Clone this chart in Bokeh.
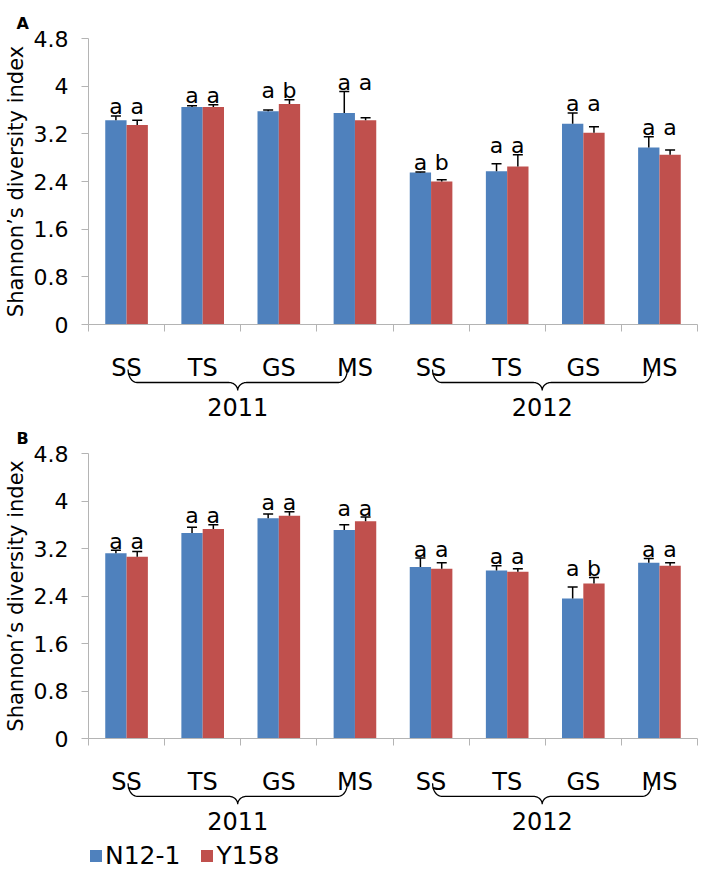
import numpy as np
from bokeh.plotting import figure
from bokeh.models import (Range1d, FixedTicker, NumeralTickFormatter, Whisker, TeeHead,
                          ColumnDataSource)
from bokeh.layouts import column
from bokeh.core.properties import value
from bokeh.embed import file_html
from bokeh.resources import INLINE

# ---------------- data ----------------
seasons = ["SS", "TS", "GS", "MS", "SS", "TS", "GS", "MS"]
years = ["2011", "2012"]
series_names = ["N12-1", "Y158"]
y_ticks = [0, 0.8, 1.6, 2.4, 3.2, 4.0, 4.8]

a_n12 = [3.43, 3.65, 3.58, 3.55, 2.55, 2.57, 3.37, 2.97]
a_n12_err = [0.07, 0.02, 0.02, 0.36, 0.01, 0.13, 0.18, 0.18]
a_y158 = [3.35, 3.65, 3.70, 3.43, 2.40, 2.65, 3.22, 2.85]
a_y158_err = [0.08, 0.04, 0.07, 0.04, 0.03, 0.20, 0.10, 0.08]
a_n12_letters = ["a", "a", "a", "a", "a", "a", "a", "a"]
a_y158_letters = ["a", "a", "b", "a", "b", "a", "a", "a"]

b_n12 = [3.12, 3.46, 3.71, 3.51, 2.89, 2.83, 2.36, 2.96]
b_n12_err = [0.05, 0.10, 0.07, 0.09, 0.15, 0.08, 0.19, 0.07]
b_y158 = [3.06, 3.53, 3.75, 3.66, 2.86, 2.81, 2.61, 2.91]
b_y158_err = [0.09, 0.07, 0.07, 0.07, 0.10, 0.05, 0.10, 0.05]
b_n12_letters = ["a", "a", "a", "a", "a", "a", "a", "a"]
b_y158_letters = ["a", "a", "a", "a", "a", "a", "b", "a"]

# ---------------- style ----------------
FONT = "DejaVu Sans"
BLUE = "#4F81BD"
RED = "#C0504D"
AXIS_GRAY = "#B4B4B4"
W = 704
LEFT = 83
RIGHT = 7
FRAME_H = 286
BAR_W = 0.28
OFF = 0.14
N_CAT = len(seasons)
Y_MAX = y_ticks[-1]
PX_X = (W - LEFT - RIGHT) / N_CAT
PX_Y = FRAME_H / Y_MAX
BRACE_TOP, BRACE_LINE, BRACE_TIP, BRACE_R = 45, 58, 66, 9
YEAR_OFFSET = 82
LETTER_GAP = 9


def brace_path(x0, x1):
    rx = BRACE_R / PX_X
    xm = (x0 + x1) / 2
    a = np.linspace(np.pi, np.pi / 2, 14)
    b = np.linspace(-np.pi / 2, 0, 14)
    c = np.linspace(np.pi, 1.5 * np.pi, 14)
    d = np.linspace(np.pi / 2, 0, 14)
    xs = np.concatenate([x0 + rx + rx * np.cos(a), xm - rx + rx * np.cos(b),
                         xm + rx + rx * np.cos(c), x1 - rx + rx * np.cos(d)])
    ys = np.concatenate([BRACE_TOP + (BRACE_LINE - BRACE_TOP) * np.sin(a),
                         BRACE_TIP + (BRACE_TIP - BRACE_LINE) * np.sin(b),
                         BRACE_TIP + (BRACE_TIP - BRACE_LINE) * np.sin(c),
                         BRACE_TOP + (BRACE_LINE - BRACE_TOP) * np.sin(d)])
    return xs, -ys / PX_Y


def make_panel(label, n, n_err, yv, y_err, n_let, y_let, height, top):
    p = figure(width=W, height=height, x_range=Range1d(0, N_CAT), y_range=Range1d(0, Y_MAX),
               output_backend="svg", toolbar_location=None,
               min_border_left=LEFT, min_border_right=RIGHT, min_border_top=top,
               min_border_bottom=height - top - FRAME_H, title=label)
    p.outline_line_color = None
    p.grid.visible = False
    p.background_fill_color = "white"

    p.title.text_font = FONT
    p.title.text_font_size = "16px"
    p.title.text_font_style = "bold"
    p.title.text_color = "black"
    p.title.align = "left"
    p.title.offset = -72
    p.title.standoff = 12

    centers = [i + 0.5 for i in range(N_CAT)]
    xn = [c - OFF for c in centers]
    xy = [c + OFF for c in centers]

    p.vbar(x=xn, top=n, width=BAR_W, fill_color=BLUE, line_color=None)
    p.vbar(x=xy, top=yv, width=BAR_W, fill_color=RED, line_color=None)

    for xs, tops, errs in ((xn, n, n_err), (xy, yv, y_err)):
        src = ColumnDataSource(dict(base=xs, lower=tops,
                                    upper=[t + e for t, e in zip(tops, errs)]))
        wk = Whisker(source=src, base="base", lower="lower", upper="upper",
                     dimension="height", line_color="black", line_width=1.5,
                     upper_head=TeeHead(size=10, line_width=1.5, line_color="black"),
                     lower_head=None, level="overlay")
        p.add_layout(wk)

    letter_y = [max(a + b, c + d) + LETTER_GAP / PX_Y
                for a, b, c, d in zip(n, n_err, yv, y_err)]
    p.text(x=xn + xy, y=letter_y + letter_y, text=n_let + y_let,
           text_font=value(FONT), text_font_size="22px", text_align="center",
           text_baseline="alphabetic", text_color="black", level="overlay")

    # axes
    xa = p.xaxis[0]
    xa.ticker = FixedTicker(ticks=centers, minor_ticks=list(range(N_CAT + 1)))
    xa.major_label_overrides = {c: s for c, s in zip(centers, seasons)}
    xa.major_tick_out = 0
    xa.major_tick_in = 0
    xa.minor_tick_out = 7
    xa.minor_tick_in = 0
    xa.minor_tick_line_color = AXIS_GRAY
    xa.axis_line_color = AXIS_GRAY
    xa.major_label_text_font = FONT
    xa.major_label_text_font_size = "24px"
    xa.major_label_standoff = 22
    xa.major_label_text_color = "black"

    ya = p.yaxis[0]
    ya.ticker = FixedTicker(ticks=y_ticks)
    ya.formatter = NumeralTickFormatter(format="0.[0]")
    ya.major_tick_out = 7
    ya.major_tick_in = 0
    ya.minor_tick_out = 0
    ya.minor_tick_in = 0
    ya.major_tick_line_color = AXIS_GRAY
    ya.axis_line_color = AXIS_GRAY
    ya.major_label_text_font = FONT
    ya.major_label_text_font_size = "22px"
    ya.major_label_standoff = 13
    ya.major_label_text_color = "black"
    ya.axis_label = "Shannon\u2019s diversity index"
    ya.axis_label_text_font = FONT
    ya.axis_label_text_font_size = "21px"
    ya.axis_label_text_font_style = "normal"
    ya.axis_label_standoff = 3
    ya.axis_label_text_color = "black"

    # year braces and labels below the axis
    yr_x = []
    for g in range(len(years)):
        first = g * 4 + 0.5
        last = g * 4 + 3.5
        x0, x1 = first + 0.02, last - 0.1
        bx, by = brace_path(x0, x1)
        p.line(bx, by, line_color="black", line_width=1.3, level="overlay")
        yr_x.append((x0 + x1) / 2)
    p.text(x=yr_x, y=[0] * len(years), text=years, y_offset=YEAR_OFFSET,
           text_font=value(FONT), text_font_size="24px", text_align="center",
           text_baseline="middle", text_color="black", level="overlay")
    return p


pA = make_panel("A", a_n12, a_n12_err, a_y158, a_y158_err, a_n12_letters, a_y158_letters,
                420, 38)
pB = make_panel("B", b_n12, b_n12_err, b_y158, b_y158_err, b_n12_letters, b_y158_letters,
                421, 32)

# legend strip
LEG_X = 85
pL = figure(width=W, height=872 - 420 - 421, output_backend="svg", toolbar_location=None,
            x_axis_type=None, y_axis_type=None, x_range=Range1d(0, 1), y_range=Range1d(0, 1),
            min_border_left=LEG_X, min_border_right=0, min_border_top=0, min_border_bottom=0)
pL.outline_line_color = None
pL.grid.visible = False
# zero-size placeholder bars that only carry the legend entries
pL.vbar(x=[0], top=[0], width=0, fill_color=BLUE, line_color=None,
        legend_label=series_names[0])
pL.vbar(x=[0], top=[0], width=0, fill_color=RED, line_color=None,
        legend_label=series_names[1])
lg = pL.legend[0]
lg.orientation = "horizontal"
lg.location = "top_left"
lg.padding = 0
lg.margin = 0
lg.spacing = 19
lg.label_standoff = 2
lg.glyph_width = 15
lg.glyph_height = 15
lg.label_text_font = FONT
lg.label_text_font_size = "25px"
lg.label_text_color = "black"
lg.border_line_color = None
lg.background_fill_alpha = 0

layout = column(pA, pB, pL)
open("out.html", "w").write(file_html(layout, INLINE))
